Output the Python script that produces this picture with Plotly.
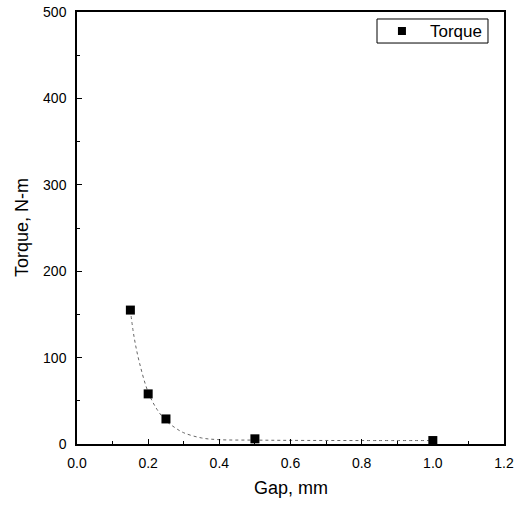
import plotly.graph_objects as go

gap_mm = [0.15, 0.2, 0.25, 0.5, 1.0]
torque_nm = [155, 58, 29, 6, 4]

fit_gap = [0.15, 0.16, 0.175, 0.2, 0.225, 0.25, 0.275, 0.3, 0.35, 0.4, 0.5, 0.6, 0.8, 1.0]
fit_torque = [155, 125, 95, 60, 40, 27, 19, 13, 7, 5, 4.5, 4.2, 4, 4]

x_ticks = [0.0, 0.2, 0.4, 0.6, 0.8, 1.0, 1.2]
y_ticks = [0, 100, 200, 300, 400, 500]
series_name = "Torque"

font = "Liberation Sans, Arial, sans-serif"

fig = go.Figure()
fig.add_trace(go.Scatter(
    x=fit_gap, y=fit_torque, mode="lines",
    line=dict(color="#666666", width=1, dash="dot", shape="spline"),
    showlegend=False, hoverinfo="skip"))
fig.add_trace(go.Scatter(
    x=gap_mm, y=torque_nm, mode="markers", name=series_name,
    showlegend=False,
    marker=dict(symbol="square", size=9, color="black")))

axis_common = dict(
    showline=True, linecolor="black", linewidth=1.5, mirror=True,
    ticks="inside", ticklen=5, tickwidth=1.2, tickcolor="black",
    showgrid=False, zeroline=False, automargin=False,
    tickfont=dict(family=font, size=14, color="black"),
)

# legend box (drawn manually to match the compact reference legend)
leg_x0, leg_x1, leg_y0, leg_y1 = 0.7026, 0.9625, 0.9282, 0.9838
leg_mid = (leg_y0 + leg_y1) / 2

fig.update_layout(
    width=519, height=505,
    margin=dict(l=77, r=15, t=12, b=61),
    plot_bgcolor="white", paper_bgcolor="white",
    font=dict(family=font, color="black"),
    showlegend=False,
    xaxis=dict(range=[0, 1.2], tickvals=x_ticks,
               ticktext=[f"{v:.1f}" for v in x_ticks],
               ticklabelstandoff=5,
               minor=dict(ticks="inside", ticklen=3, dtick=0.1, tickcolor="black"),
               **axis_common),
    yaxis=dict(range=[0, 500], tickvals=y_ticks,
               ticklabelstandoff=6,
               minor=dict(ticks="inside", ticklen=3, dtick=50, tickcolor="black"),
               **axis_common),
    shapes=[
        dict(type="rect", xref="paper", yref="paper",
             x0=leg_x0, x1=leg_x1, y0=leg_y0, y1=leg_y1,
             line=dict(color="black", width=1), fillcolor="white"),
        dict(type="rect", xref="paper", yref="paper",
             xsizemode="pixel", ysizemode="pixel",
             xanchor=0.761, yanchor=leg_mid, x0=-4, x1=4, y0=-4, y1=4,
             line=dict(color="black", width=0), fillcolor="black"),
    ],
    annotations=[
        dict(text=series_name, xref="paper", yref="paper", x=0.822, y=leg_mid,
             xanchor="left", yanchor="middle", showarrow=False,
             font=dict(family=font, size=17, color="black")),
        dict(text="Gap, mm", xref="paper", yref="paper", x=0.5, y=-0.0,
             yshift=-44, xanchor="center", yanchor="middle", showarrow=False,
             font=dict(family=font, size=18, color="black")),
        dict(text="Torque, N-m", xref="paper", yref="paper", x=0, y=0.5,
             xshift=-55, textangle=-90, xanchor="center", yanchor="middle",
             showarrow=False, font=dict(family=font, size=18, color="black")),
    ],
)

fig.write_html("out.html", config={"displayModeBar": False},
               post_script="document.body.style.margin='0';document.body.style.overflow='hidden';")
